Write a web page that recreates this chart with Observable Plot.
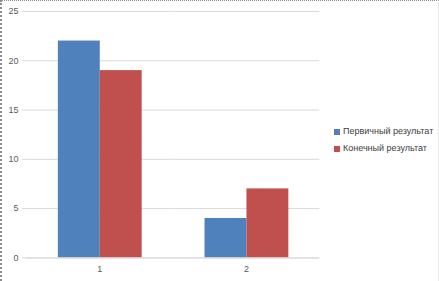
<!DOCTYPE html>
<html>
<head>
<meta charset="utf-8">
<script src="https://cdn.jsdelivr.net/npm/d3@7"></script>
<script src="https://cdn.jsdelivr.net/npm/@observablehq/plot@0.6"></script>
<style>
  html, body { margin: 0; padding: 0; background: #fff; }
  #wrap { position: relative; width: 439px; height: 281px; box-sizing: border-box;
          border-top: 1px dotted #8c8c8c; border-left: 2px dotted #8c8c8c; border-right: 1px solid #ececec; overflow: hidden; }
  #chart { position: absolute; left: -2px; top: -1px; }
  #legend { position: absolute; left: 332px; top: 122px; font-family: "Liberation Sans", Arial, sans-serif;
            font-size: 9px; color: #404040; }
  #legend div { display: flex; align-items: center; height: 17px; line-height: 17px; white-space: nowrap; }
  #legend span.sw { display: inline-block; width: 6px; height: 6px; margin-right: 3px; }
</style>
</head>
<body>
<div id="wrap">
  <div id="chart"></div>
  <div id="legend"></div>
</div>
<script>
const categories = ["1", "2"];
const seriesNames = ["Первичный результат", "Конечный результат"];
const primaryValues = [22, 4];
const finalValues = [19, 7];
const yTicks = [0, 5, 10, 15, 20, 25];
const colors = ["#4f81bd", "#c0504d"];

const data = [];
categories.forEach((c, i) => {
  data.push({category: c, series: seriesNames[0], value: primaryValues[i]});
  data.push({category: c, series: seriesNames[1], value: finalValues[i]});
});

// category boundary ticks below the baseline, placed with the fx scale
const boundaryData = categories.map((c) => ({category: c}));

const chart = Plot.plot({
  width: 439,
  height: 281,
  marginLeft: 25,
  marginRight: 119,
  marginTop: 11,
  marginBottom: 23,
  style: { fontFamily: "Liberation Sans, Arial, sans-serif", fontSize: "9px", color: "#595959", background: "transparent" },
  fx: { domain: categories, padding: 0, label: null, axis: null },
  x: { domain: seriesNames, paddingInner: 0, paddingOuter: 0.75, axis: null },
  y: { domain: [0, 25], ticks: yTicks, label: null, axis: null },
  color: { domain: seriesNames, range: colors },
  marks: [
    Plot.gridY(yTicks, { stroke: "#d9d9d9", strokeOpacity: 1 }),
    Plot.axisY(yTicks, { facetAnchor: "left", tickSize: 4, tickPadding: 4, stroke: "#d9d9d9", fill: "#595959", label: null }),
    Plot.barY(data, { fx: "category", x: "series", y: "value", fill: "series" }),
    Plot.ruleY([0], { stroke: "#d9d9d9" }),
    // left axis line (first facet only)
    Plot.ruleX(boundaryData.slice(0, 1), { fx: "category", frameAnchor: "left", stroke: "#d9d9d9" }),
    // boundary ticks at the left of each category and the right of the last
    Plot.ruleX(boundaryData, { fx: "category", frameAnchor: "left", y1: 0, y2: -0.4, stroke: "#d9d9d9" }),
    Plot.ruleX(boundaryData.slice(-1), { fx: "category", frameAnchor: "right", y1: 0, y2: -0.4, stroke: "#d9d9d9" }),
    Plot.axisFx({ tickSize: 0, tickPadding: 8, fill: "#595959", label: null, anchor: "bottom" })
  ]
});
document.getElementById("chart").appendChild(chart);

const legend = document.getElementById("legend");
seriesNames.forEach((s, i) => {
  const row = document.createElement("div");
  const sw = document.createElement("span");
  sw.className = "sw";
  sw.style.background = colors[i];
  row.appendChild(sw);
  row.appendChild(document.createTextNode(s));
  legend.appendChild(row);
});
</script>
</body>
</html>
